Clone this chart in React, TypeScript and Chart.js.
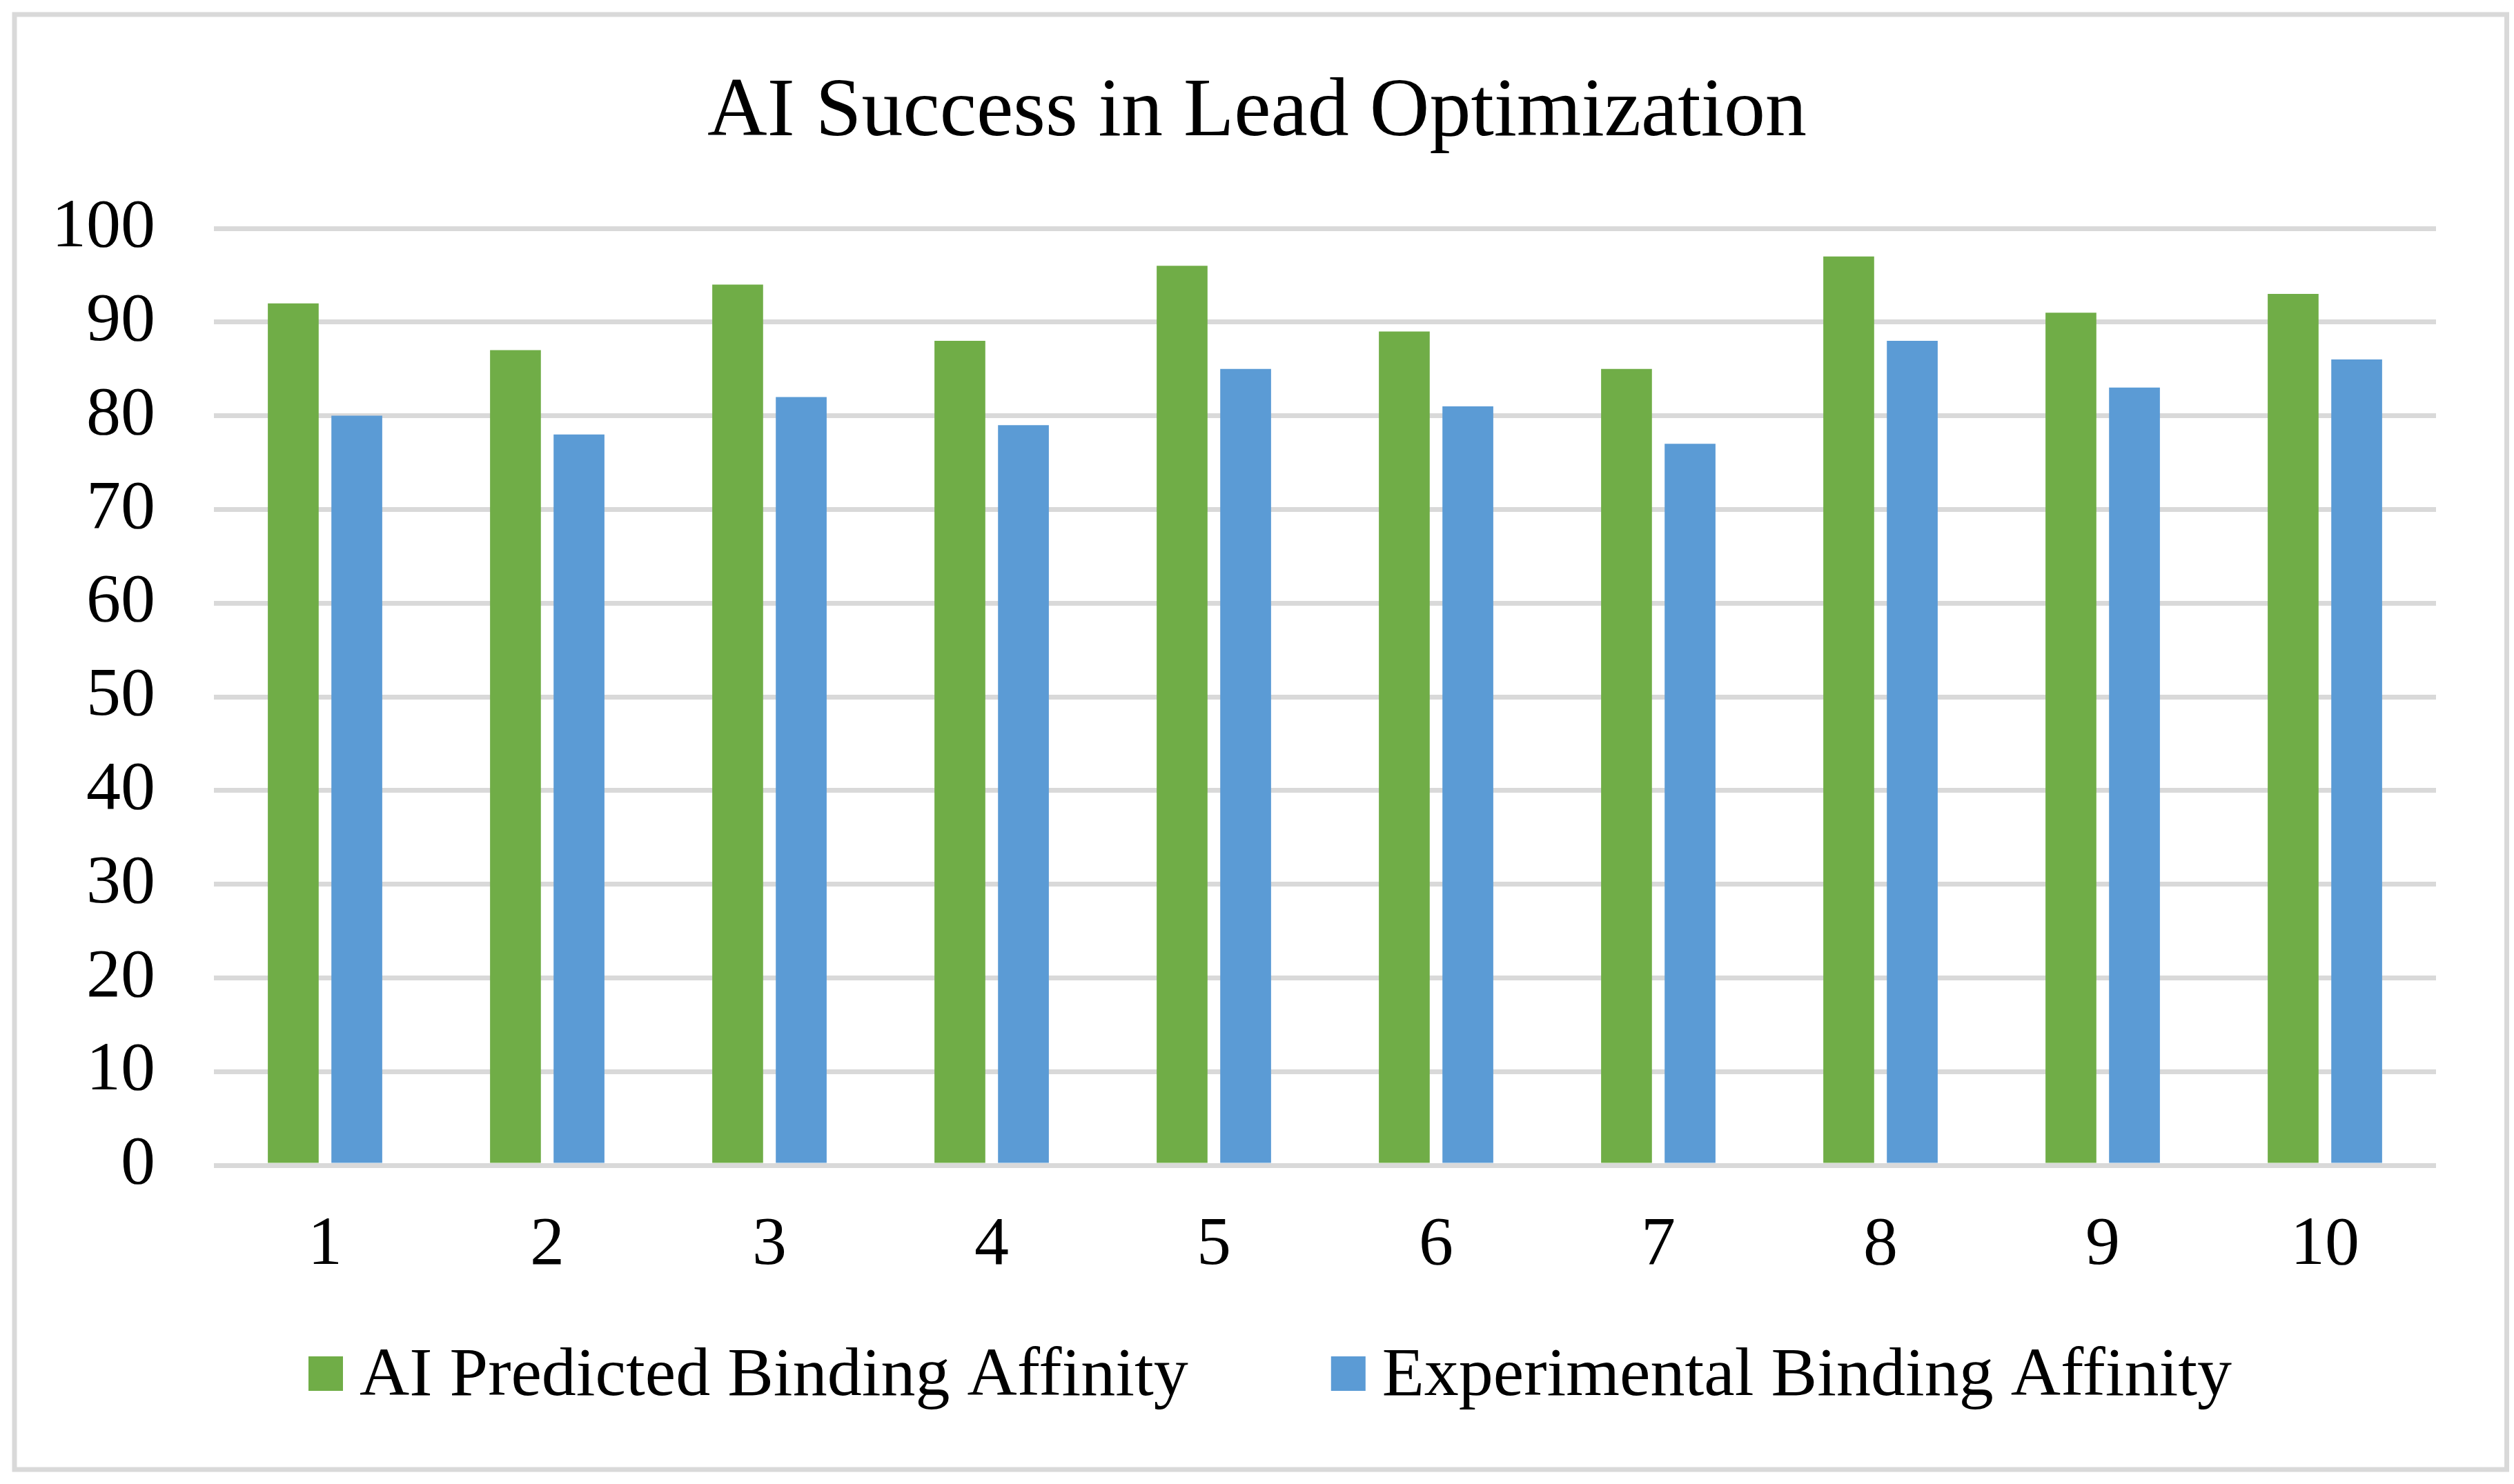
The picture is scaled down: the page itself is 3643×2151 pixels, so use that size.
import React, { useEffect, useRef } from "react";
import { Chart, registerables } from "chart.js";

Chart.register(...registerables);

// ---- data ----
const categories = ["1", "2", "3", "4", "5", "6", "7", "8", "9", "10"];
const aiPredicted = [92, 87, 94, 88, 96, 89, 85, 97, 91, 93];
const experimental = [80, 78, 82, 79, 85, 81, 77, 88, 83, 86];
const seriesNames = ["AI Predicted Binding Affinity", "Experimental Binding Affinity"];
const seriesColors = ["#70AD47", "#5B9BD5"];
const yMin = 0;
const yMax = 100;
const yStep = 10;
const titleText = "AI Success in Lead Optimization";

const FONT = '"Liberation Serif", "Times New Roman", serif';
const W = 3643;
const H = 2151;

const framePlugin = {
  id: "frameTitleLegend",
  beforeDraw(chart: any) {
    const ctx = chart.ctx;
    ctx.save();
    ctx.fillStyle = "#FFFFFF";
    ctx.fillRect(0, 0, chart.width, chart.height);
    ctx.strokeStyle = "#D9D9D9";
    ctx.lineWidth = 7;
    ctx.strokeRect(21, 21, chart.width - 31.5, chart.height - 42);
    ctx.restore();
  },
  afterDraw(chart: any) {
    const ctx = chart.ctx;
    ctx.save();
    // title
    ctx.fillStyle = "#000000";
    ctx.font = `120px ${FONT}`;
    ctx.textAlign = "center";
    ctx.textBaseline = "alphabetic";
    ctx.fillText(titleText, chart.width / 2, 196);
    // legend
    ctx.font = `100px ${FONT}`;
    ctx.textAlign = "left";
    let x = 447;
    chart.data.datasets.forEach((ds: any) => {
      ctx.fillStyle = ds.backgroundColor;
      ctx.fillRect(x, 1966, 50, 50);
      x += 50 + 24;
      ctx.fillStyle = "#000000";
      ctx.fillText(ds.label, x, 2022);
      x += ctx.measureText(ds.label).width + 207;
    });
    ctx.restore();
  },
};

export default function App() {
  const canvasRef = useRef<HTMLCanvasElement | null>(null);

  useEffect(() => {
    document.body.style.margin = "0";
    document.body.style.overflow = "hidden";
    const canvas = canvasRef.current;
    if (!canvas) return;
    const chart = new Chart(canvas, {
      type: "bar",
      data: {
        labels: categories,
        datasets: [
          {
            label: seriesNames[0],
            data: aiPredicted,
            backgroundColor: seriesColors[0],
            categoryPercentage: 0.572,
            barPercentage: 0.8,
          },
          {
            label: seriesNames[1],
            data: experimental,
            backgroundColor: seriesColors[1],
            categoryPercentage: 0.572,
            barPercentage: 0.8,
          },
        ],
      },
      options: {
        animation: false,
        responsive: false,
        devicePixelRatio: 1,
        layout: { padding: { top: 331, left: 0, right: 113, bottom: 262 } },
        plugins: {
          legend: { display: false },
          title: { display: false },
          tooltip: { enabled: false },
        },
        scales: {
          x: {
            grid: { display: false, drawTicks: false },
            border: { display: false },
            ticks: {
              font: { family: FONT, size: 100 },
              color: "#000000",
              padding: 57,
              maxRotation: 0,
              autoSkip: false,
            },
            afterFit: (s: any) => {
              s.height = 200;
            },
          },
          y: {
            min: yMin,
            max: yMax,
            grid: { color: "#D9D9D9", lineWidth: 7, drawTicks: false },
            border: { display: false },
            ticks: {
              stepSize: yStep,
              font: { family: FONT, size: 100 },
              color: "#000000",
              padding: 85,
            },
            afterFit: (s: any) => {
              s.width = 310;
            },
          },
        },
      },
      plugins: [framePlugin],
    });
    return () => chart.destroy();
  }, []);

  return (
    <div style={{ width: W, height: H }}>
      <canvas ref={canvasRef} width={W} height={H} style={{ display: "block", width: W, height: H }} />
    </div>
  );
}
